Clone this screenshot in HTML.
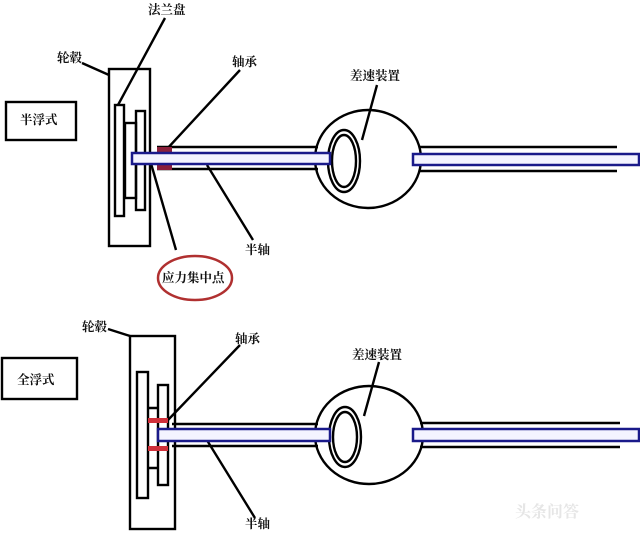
<!DOCTYPE html>
<html><head><meta charset="utf-8"><style>
html,body{margin:0;padding:0;background:#fff;width:640px;height:533px;overflow:hidden}
svg text{font-family:"Liberation Serif","Noto Serif CJK SC",serif;font-size:12.5px;font-weight:bold;fill:#111}
</style></head><body>
<svg width="640" height="533" viewBox="0 0 640 533" xmlns="http://www.w3.org/2000/svg">
<g fill="none" stroke="#000" stroke-width="2.4">
<!-- TOP -->
<rect x="6" y="102" width="70" height="38"/>
<rect x="109" y="69" width="41" height="177"/>
<rect x="115" y="105" width="9" height="111"/>
<rect x="125" y="123" width="11" height="75"/>
<rect x="136" y="111" width="9" height="99"/>
<path d="M157 147 H318 M157 169 H318"/>
<ellipse cx="368" cy="159" rx="53" ry="49"/>
<ellipse cx="344" cy="161" rx="16" ry="31"/>
<ellipse cx="344" cy="161" rx="12" ry="26"/>
<path d="M420 147 H617 M420 171 H617"/>
<path d="M165 18 L118 105 M82 63 L109 75 M240 70 L166 150 M377 85 L362 140 M207 165 L253 240 M150 160 L176 250"/>
<!-- BOTTOM -->
<rect x="2" y="358" width="75" height="41"/>
<rect x="130" y="336" width="45" height="193"/>
<rect x="137" y="372" width="11" height="126"/>
<rect x="158" y="385" width="10" height="100"/>
<path d="M148 408 H158 M148 468 H158"/>
<path d="M172 424 H318 M172 446 H318"/>
<ellipse cx="369" cy="435" rx="54" ry="49"/>
<ellipse cx="345" cy="437" rx="16" ry="30"/>
<ellipse cx="345" cy="437" rx="12" ry="25"/>
<path d="M420 423 H620 M420 447 H620"/>
<path d="M108 329 L130 336 M240 345 L168 420 M379 362 L364 416 M205 437 L255 518"/>
</g>
<rect x="157" y="147" width="15" height="23" fill="#8a1f3a"/>
<rect x="132" y="153" width="198" height="11" fill="#f4f4ff" stroke="#1a1a8a" stroke-width="2.5"/>
<rect x="413" y="154" width="226" height="11" fill="#f4f4ff" stroke="#1a1a8a" stroke-width="2.5"/>
<rect x="148" y="418" width="20" height="5" fill="#d0303a"/>
<rect x="148" y="446" width="20" height="5" fill="#d0303a"/>
<rect x="158" y="429" width="172" height="12" fill="#f4f4ff" stroke="#1a1a8a" stroke-width="2.5"/>
<rect x="413" y="429" width="226" height="12" fill="#f4f4ff" stroke="#1a1a8a" stroke-width="2.5"/>
<ellipse cx="195" cy="278" rx="37" ry="22" fill="none" stroke="#b03030" stroke-width="2.5"/>
<text x="148" y="14">法兰盘</text>
<text x="57" y="62">轮毂</text>
<text x="232" y="66">轴承</text>
<text x="350" y="80">差速装置</text>
<text x="245" y="254">半轴</text>
<text x="20" y="124">半浮式</text>
<text x="162" y="282">应力集中点</text>
<text x="82" y="331">轮毂</text>
<text x="235" y="343">轴承</text>
<text x="352" y="359">差速装置</text>
<text x="245" y="528">半轴</text>
<text x="17" y="384">全浮式</text>
<text x="515" y="517" style="fill:#e6e6e6;font-size:16px">头条问答</text>
</svg>
</body></html>
